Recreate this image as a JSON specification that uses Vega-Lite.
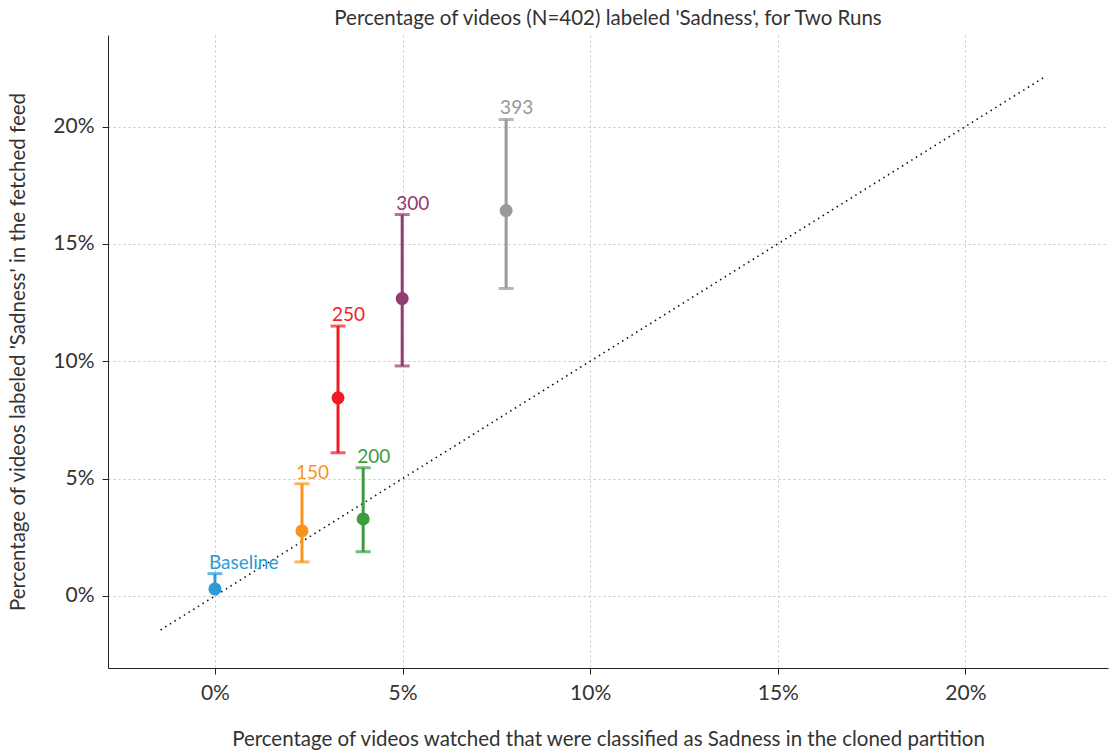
{
  "$schema": "https://vega.github.io/schema/vega-lite/v6.json",
  "width": 1000,
  "height": 633,
  "autosize": {"type": "none"},
  "padding": {"left": 108, "top": 35, "right": 2, "bottom": 83},
  "background": "white",
  "config": {
    "font": "Lato",
    "view": {"stroke": null},
    "axis": {
      "labelFont": "Lato", "titleFont": "Lato", "labelFontSize": 21, "titleFontSize": 20.5,
      "labelColor": "#333", "titleColor": "#333", "titleFontWeight": "normal",
      "domainColor": "#222", "tickColor": "#222", "tickSize": 6, "labelPadding": 8,
      "gridColor": "#c4c4c4", "gridDash": [2, 3], "gridWidth": 1
    }
  },
  "title": {"text": "Percentage of videos (N=402) labeled 'Sadness', for Two Runs", "font": "Lato", "fontSize": 20.5, "fontWeight": "normal", "color": "#333", "offset": 6},
  "datasets": {
    "pts": [
      {"label": "Baseline", "x": 0.0, "y": 0.3, "lo": 0.25, "hi": 0.95},
      {"label": "150", "x": 2.32, "y": 2.77, "lo": 1.45, "hi": 4.78},
      {"label": "200", "x": 3.95, "y": 3.28, "lo": 1.88, "hi": 5.46},
      {"label": "250", "x": 3.28, "y": 8.44, "lo": 6.1, "hi": 11.5},
      {"label": "300", "x": 4.99, "y": 12.67, "lo": 9.8, "hi": 16.25},
      {"label": "393", "x": 7.76, "y": 16.42, "lo": 13.1, "hi": 20.3}
    ],
    "diag": [{"x": -1.45, "y": -1.45}, {"x": 22.1, "y": 22.1}]
  },
  "layer": [
    {
      "data": {"name": "diag"},
      "mark": {"type": "line", "color": "#111", "strokeDash": [1.5, 4], "strokeWidth": 1.6},
      "encoding": {
        "x": {"field": "x", "type": "quantitative", "scale": {"domain": [-2.85, 23.8], "nice": false, "zero": false},
          "axis": {"values": [0, 5, 10, 15, 20], "labelExpr": "datum.value + '%'", "title": "Percentage of videos watched that were classified as Sadness in the cloned partition", "titlePadding": 26, "grid": true}},
        "y": {"field": "y", "type": "quantitative", "scale": {"domain": [-3.07, 23.9], "nice": false, "zero": false},
          "axis": {"values": [0, 5, 10, 15, 20], "labelExpr": "datum.value + '%'", "title": "Percentage of videos labeled 'Sadness' in the fetched feed", "titlePadding": 24, "grid": true}}
      }
    },
    {
      "data": {"name": "pts"},
      "mark": {"type": "rule", "strokeWidth": 3},
      "encoding": {
        "x": {"field": "x", "type": "quantitative"},
        "y": {"field": "lo", "type": "quantitative"},
        "y2": {"field": "hi"},
        "color": {"field": "label", "type": "nominal", "scale": {"domain": ["Baseline", "150", "200", "250", "300", "393"], "range": ["#2b9ad6", "#f7941d", "#3f9b3f", "#ee1d25", "#8f3d70", "#999999"]}, "legend": null}
      }
    },
    {
      "data": {"name": "pts"},
      "transform": [{"filter": "datum.label != 'Baseline'"}],
      "mark": {"type": "tick", "orient": "horizontal", "size": 15, "thickness": 3},
      "encoding": {
        "x": {"field": "x", "type": "quantitative"},
        "y": {"field": "lo", "type": "quantitative"},
        "color": {"field": "label", "type": "nominal", "legend": null}
      }
    },
    {
      "data": {"name": "pts"},
      "mark": {"type": "tick", "orient": "horizontal", "size": 15, "thickness": 3},
      "encoding": {
        "x": {"field": "x", "type": "quantitative"},
        "y": {"field": "hi", "type": "quantitative"},
        "color": {"field": "label", "type": "nominal", "legend": null}
      }
    },
    {
      "data": {"name": "pts"},
      "mark": {"type": "circle", "size": 170, "opacity": 1},
      "encoding": {
        "x": {"field": "x", "type": "quantitative"},
        "y": {"field": "y", "type": "quantitative"},
        "color": {"field": "label", "type": "nominal", "legend": null}
      }
    },
    {
      "data": {"name": "pts"},
      "mark": {"type": "text", "align": "left", "baseline": "alphabetic", "dx": -6, "dy": -5, "fontSize": 19, "font": "Lato"},
      "encoding": {
        "x": {"field": "x", "type": "quantitative"},
        "y": {"field": "hi", "type": "quantitative"},
        "text": {"field": "label"},
        "color": {"field": "label", "type": "nominal", "legend": null}
      }
    }
  ]
}
